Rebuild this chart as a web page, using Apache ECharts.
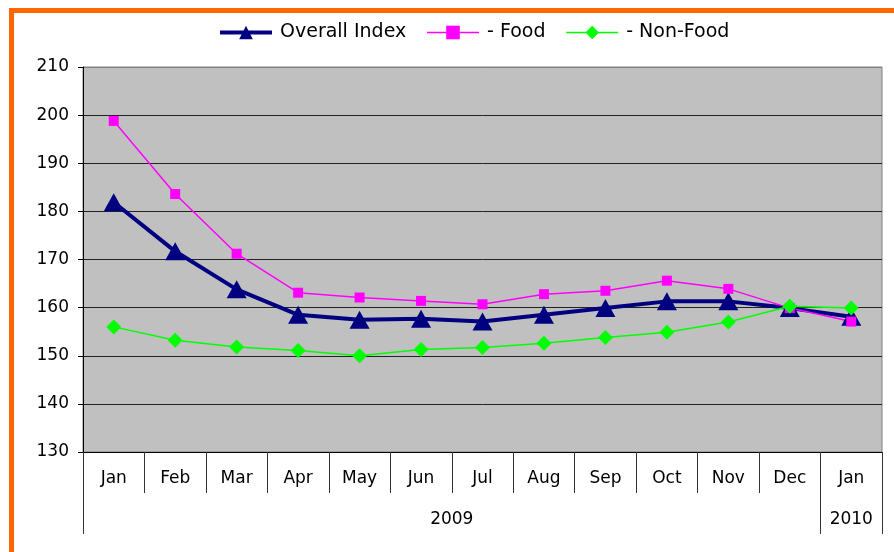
<!DOCTYPE html>
<html><head><meta charset="utf-8">
<script src="https://cdn.jsdelivr.net/npm/echarts@6/dist/echarts.min.js"></script>
<style>
html,body{margin:0;padding:0;width:894px;height:552px;overflow:hidden;background:#fff;}
#frame{position:absolute;left:9px;top:8px;width:1000px;height:1000px;border-left:5px solid #FF6600;border-top:5px solid #FF6600;}
#chart{position:absolute;left:0;top:0;width:894px;height:552px;}
</style></head>
<body>
<div id="frame"></div>
<div id="chart"></div>
<script>
var months = ['Jan','Feb','Mar','Apr','May','Jun','Jul','Aug','Sep','Oct','Nov','Dec','Jan'];
var years = ['2009','2010'];
var yearSpans = [12,1];
var overallIndex = [181.9,171.7,163.8,158.5,157.5,157.7,157.1,158.5,159.9,161.3,161.3,159.9,158.1];
var food = [198.8,183.6,171.2,163.1,162.1,161.4,160.7,162.8,163.5,165.6,163.9,159.9,157.1];
var nonFood = [156.0,153.2,151.8,151.1,150.0,151.3,151.7,152.6,153.8,154.9,157.0,160.3,159.9];
var seriesNames = ['Overall Index','- Food','- Non-Food'];
var yTicks = {min:130, max:210, step:10};

var bounds = [0], mids = [], acc = 0;
yearSpans.forEach(function(s){ mids.push(acc + s/2); acc += s; bounds.push(acc); });

var FONT = 'DejaVu Sans';
var chart = echarts.init(document.getElementById('chart'), null, {renderer:'canvas'});
chart.setOption({
  animation:false,
  textStyle:{fontFamily:FONT},
  legend:{
    left:218, top:23, padding:0, itemWidth:52, itemHeight:17, itemGap:20,
    textStyle:{fontFamily:FONT, fontSize:19, color:'#000', padding:[0,0,0,3]},
    data:[
      {name:seriesNames[0], lineStyle:{width:4}},
      {name:seriesNames[1], lineStyle:{width:1.5}},
      {name:seriesNames[2], lineStyle:{width:1.5}}
    ]
  },
  grid:{left:83, top:67, right:12, bottom:100, show:true, backgroundColor:'#C0C0C0', borderColor:'#808080', borderWidth:1},
  xAxis:[{
    type:'category', data:months, boundaryGap:true, position:'bottom',
    axisLine:{lineStyle:{color:'#000', width:1}},
    axisTick:{show:true, interval:0, length:41, lineStyle:{color:'#333'}},
    axisLabel:{interval:0, margin:18, fontFamily:FONT, fontSize:17, color:'#000'},
    splitLine:{show:false}
  },{
    type:'value', min:0, max:acc, position:'bottom', offset:0,
    axisLine:{show:false},
    axisTick:{show:true, customValues:bounds, length:82, lineStyle:{color:'#333'}},
    axisLabel:{customValues:mids, margin:59, fontFamily:FONT, fontSize:17, color:'#000',
      formatter:function(v){ for(var i=0;i<mids.length;i++){ if(Math.abs(mids[i]-v)<1e-6) return years[i]; } return ''; }},
    splitLine:{show:false}
  }],
  yAxis:{
    type:'value', min:yTicks.min, max:yTicks.max, interval:yTicks.step,
    axisLine:{show:true, lineStyle:{color:'#000'}},
    axisTick:{show:true, length:5, lineStyle:{color:'#000'}},
    axisLabel:{margin:14, fontFamily:FONT, fontSize:17, color:'#000'},
    splitLine:{show:true, lineStyle:{color:['#000','#222','#222','#222','#222','#222','#222','#222','#808080'], width:1}}
  },
  series:[{
    name:seriesNames[0], type:'line', data:overallIndex, xAxisIndex:0,
    symbol:'triangle', symbolSize:[20,18],
    lineStyle:{color:'#000080', width:4}, itemStyle:{color:'#000080'}
  },{
    name:seriesNames[1], type:'line', data:food, xAxisIndex:0,
    symbol:'rect', symbolSize:10,
    lineStyle:{color:'#FF00FF', width:1.5}, itemStyle:{color:'#FF00FF'}
  },{
    name:seriesNames[2], type:'line', data:nonFood, xAxisIndex:0,
    symbol:'diamond', symbolSize:15,
    lineStyle:{color:'#00FF00', width:1.5}, itemStyle:{color:'#00FF00'}
  }]
});
</script>
</body></html>
